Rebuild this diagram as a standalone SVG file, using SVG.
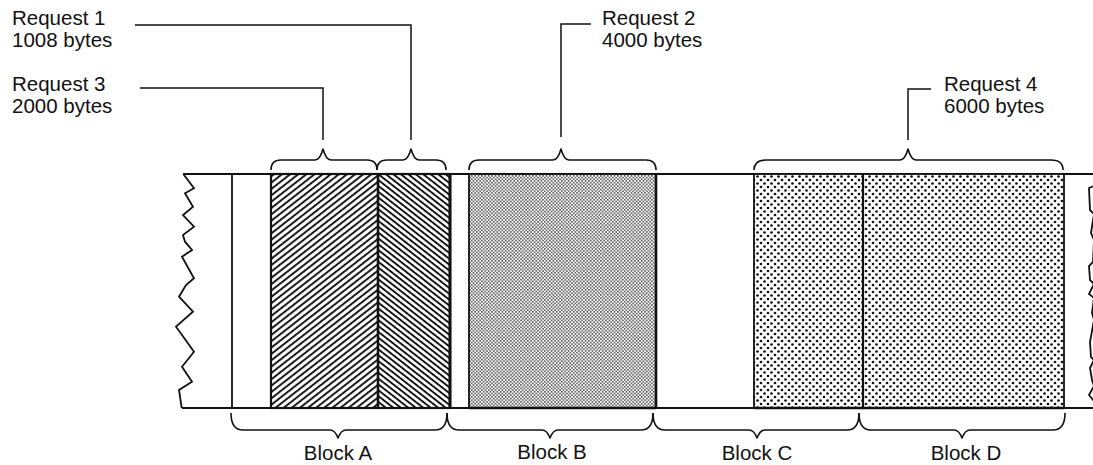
<svg xmlns="http://www.w3.org/2000/svg" width="1093" height="465" viewBox="0 0 1093 465">
<style>
  .lbl { font-family: "Liberation Sans", Arial, sans-serif; font-size: 20.5px; fill: #111; }
  .ln { fill: none; stroke: #111; stroke-width: 1.5; }
  .brace { fill: none; stroke: #111; stroke-width: 1.6; stroke-linejoin: round; }
  .edge { fill: none; stroke: #111; stroke-width: 1.8; stroke-linejoin: miter; }
</style>
<defs>
  <pattern id="hatchFwd" width="5" height="5" patternUnits="userSpaceOnUse" patternTransform="rotate(-38)">
    <rect width="5" height="5" fill="#fff"/>
    <rect width="5" height="1.9" fill="#111"/>
  </pattern>
  <pattern id="hatchBack" width="4.6" height="4.6" patternUnits="userSpaceOnUse" patternTransform="rotate(38)">
    <rect width="4.6" height="4.6" fill="#fff"/>
    <rect width="4.6" height="1.9" fill="#111"/>
  </pattern>
  <pattern id="fineDots" width="3.4" height="3.4" patternUnits="userSpaceOnUse">
    <rect width="3.4" height="3.4" fill="#fff"/>
    <rect x="0.1" y="0.1" width="1.4" height="1.4" fill="#222"/>
    <rect x="1.8" y="1.8" width="1.4" height="1.4" fill="#222"/>
  </pattern>
  <pattern id="coarseDots" width="7" height="7" patternUnits="userSpaceOnUse">
    <rect width="7" height="7" fill="#fff"/>
    <circle cx="1.5" cy="1.5" r="1.35" fill="#111"/>
    <circle cx="5" cy="5" r="1.35" fill="#111"/>
  </pattern>
</defs>

<g id="memory-strip">
  <line class="edge" x1="183" y1="174" x2="1093" y2="174"/>
  <line class="edge" x1="182" y1="408" x2="1093" y2="408"/>
  <polyline class="edge" stroke-width="1.5" points="183.3,174 194,188.3 185,193.3 193,206.7 183,215 194,226.7 183,235 185,241.7 192,250 182,256.7 194,278.3 186,285 179,296.7 193,311.7 176,326.7 194,351.7 182,366.7 192,381.7 179,390 181.7,408"/>
  <line class="edge" x1="232" y1="174" x2="232" y2="408" stroke-width="1.5"/>
  <polyline class="edge" points="1094,186 1089,188 1090,210 1094,214 1091,233 1094,240 1093,262 1089,266 1090,280 1094,284 1089,294 1094,298 1092,313 1094,320 1090,342 1091,357 1094,360 1090,368 1092,380 1094,386 1089,395 1094,401"/>
</g>

<g id="block-a">
  <rect x="271" y="174" width="107" height="234" fill="url(#hatchFwd)"/>
  <rect x="378" y="174" width="72" height="234" fill="url(#hatchBack)"/>
  <rect x="271" y="174" width="179" height="234" fill="none" stroke="#111" stroke-width="2.2"/>
  <line x1="378" y1="174" x2="378" y2="408" stroke="#111" stroke-width="2.6"/>
  <line x1="450" y1="174" x2="450" y2="408" stroke="#111" stroke-width="3"/>
</g>

<g id="block-b">
  <rect x="469" y="174" width="187" height="234" fill="url(#fineDots)" stroke="#111" stroke-width="1.8"/>
  <line x1="656" y1="174" x2="656" y2="408" stroke="#111" stroke-width="2.6"/>
  <line x1="469" y1="408" x2="656" y2="408" stroke="#111" stroke-width="2.6"/>
</g>

<g id="block-d">
  <rect x="754" y="174" width="310" height="234" fill="url(#coarseDots)" stroke="#111" stroke-width="1.8"/>
  <line x1="863" y1="174" x2="863" y2="408" stroke="#111" stroke-width="2.2"/>
  <line x1="754" y1="408" x2="1064" y2="408" stroke="#111" stroke-width="2.6"/>
</g>

<g id="connectors">
  <path class="ln" d="M135,25 H411 V140"/>
  <path class="ln" d="M140,88 H323 V140"/>
  <path class="ln" d="M591,24 H561 V137"/>
  <path class="ln" d="M931,89 H908 V140"/>

  <path class="brace" d="M271,170 Q271,160 281,160 L315,160 Q320,160 323,149 Q326,160 331,160 L367,160 Q377,160 377,170"/>
  <path class="brace" d="M377,170 Q377,160 387,160 L403,160 Q408,160 411,149 Q414,160 419,160 L436,160 Q446,160 446,170"/>
  <path class="brace" d="M469,170 Q469,160 479,160 L553,160 Q558,160 561,149 Q564,160 569,160 L646,160 Q656,160 656,170"/>
  <path class="brace" d="M754,170 Q754,160 766,160 L900,160 Q905,160 908,149 Q911,160 916,160 L1051,160 Q1063,160 1063,170"/>

  <path class="brace" d="M231,413 Q231,430 243,430 L330,430 Q335,430 338,438 Q341,430 346,430 L435,430 Q447,430 447,413"/>
  <path class="brace" d="M447,413 Q447,430 459,430 L542,430 Q547,430 550,438 Q553,430 558,430 L641,430 Q653,430 653,413"/>
  <path class="brace" d="M653,413 Q653,430 665,430 L749,430 Q754,430 757,438 Q760,430 765,430 L847,430 Q859,430 859,413"/>
  <path class="brace" d="M859,413 Q859,430 871,430 L954,430 Q959,430 962,438 Q965,430 970,430 L1053,430 Q1065,430 1065,413"/>
</g>

<g id="label-request1">
  <text class="lbl" x="12" y="25">Request 1</text>
  <text class="lbl" x="12" y="47">1008 bytes</text>
</g>
<g id="label-request3">
  <text class="lbl" x="12" y="91">Request 3</text>
  <text class="lbl" x="12" y="113">2000 bytes</text>
</g>
<g id="label-request2">
  <text class="lbl" x="602" y="25">Request 2</text>
  <text class="lbl" x="602" y="47">4000 bytes</text>
</g>
<g id="label-request4">
  <text class="lbl" x="944" y="91">Request 4</text>
  <text class="lbl" x="944" y="113">6000 bytes</text>
</g>
<g id="label-blocks">
  <text class="lbl" x="338" y="460" text-anchor="middle">Block A</text>
  <text class="lbl" x="552" y="459" text-anchor="middle">Block B</text>
  <text class="lbl" x="757" y="460" text-anchor="middle">Block C</text>
  <text class="lbl" x="966" y="460" text-anchor="middle">Block D</text>
</g>
</svg>
